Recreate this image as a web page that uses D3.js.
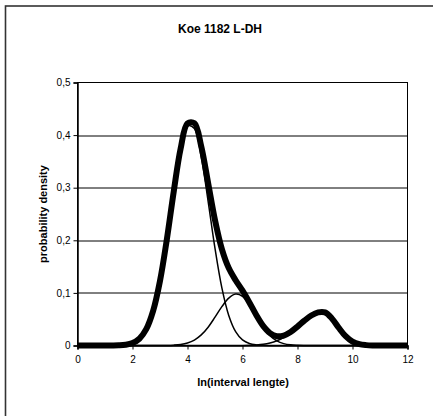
<!DOCTYPE html>
<html>
<head>
<meta charset="utf-8">
<script src="https://cdn.jsdelivr.net/npm/d3@7"></script>
<style>
    body { margin: 0; background: #fff; }
    #chart { width: 433px; height: 416px; }
    text { font-family: "Liberation Sans", Arial, sans-serif; fill: #000; }
</style>
</head>
<body>
<div id="chart"></div>
<script>
// x grid: ln(interval lengte), every 0.25
const lnX = [0, 0.25, 0.5, 0.75, 1, 1.25, 1.5, 1.75, 2, 2.25, 2.5, 2.75,
    3, 3.25, 3.5, 3.75, 4, 4.25, 4.5, 4.75, 5, 5.25, 5.5, 5.75,
    6, 6.25, 6.5, 6.75, 7, 7.25, 7.5, 7.75, 8, 8.25, 8.5, 8.75,
    9, 9.25, 9.5, 9.75, 10, 10.25, 10.5, 10.75, 11, 11.25, 11.5, 11.75, 12];

// total density (thick line)
const total = [0, 0, 0, 0, 0, 0.0001, 0.0004, 0.0015, 0.0047, 0.0129, 0.0310, 0.0657,
    0.1228, 0.2021, 0.2929, 0.3743, 0.4224, 0.4227, 0.3785, 0.3090, 0.2384, 0.1833, 0.1472, 0.1241,
    0.1043, 0.0819, 0.0580, 0.0373, 0.0236, 0.0177, 0.0190, 0.0257, 0.0360, 0.0472, 0.0570, 0.0630,
    0.0629, 0.0515, 0.0337, 0.0177, 0.0074, 0.0025, 0.0007, 0.0001, 0, 0, 0, 0, 0];

// components (thin lines)
const comp1 = [0, 0, 0, 0, 0, 0.0001, 0.0004, 0.0015, 0.0047, 0.0129, 0.0310, 0.0657,
    0.1227, 0.2019, 0.2922, 0.3724, 0.4177, 0.4124, 0.3584, 0.2742, 0.1846, 0.1095, 0.0571, 0.0263,
    0.0106, 0.0038, 0.0012, 0.0003, 0.0001, 0, 0, 0, 0, 0, 0, 0,
    0, 0, 0, 0, 0, 0, 0, 0, 0, 0, 0, 0, 0];
const comp2 = [0, 0, 0, 0, 0, 0, 0, 0, 0, 0, 0, 0,
    0.0001, 0.0002, 0.0007, 0.0019, 0.0047, 0.0103, 0.0201, 0.0348, 0.0538, 0.0738, 0.0901, 0.0978,
    0.0936, 0.0777, 0.0558, 0.0348, 0.0188, 0.0088, 0.0036, 0.0012, 0.0004, 0.0001, 0, 0,
    0, 0, 0, 0, 0, 0, 0, 0, 0, 0, 0, 0, 0];
const comp3 = [0, 0, 0, 0, 0, 0, 0, 0, 0, 0, 0, 0,
    0, 0, 0, 0, 0, 0, 0, 0, 0, 0, 0, 0,
    0.0001, 0.0004, 0.0010, 0.0022, 0.0047, 0.0089, 0.0154, 0.0245, 0.0356, 0.0471, 0.0570, 0.0630,
    0.0629, 0.0515, 0.0337, 0.0177, 0.0074, 0.0025, 0.0007, 0.0001, 0, 0, 0, 0, 0];

const xTicks = [0, 2, 4, 6, 8, 10, 12];
const yTicks = [0, 0.1, 0.2, 0.3, 0.4, 0.5];

const chartTitle = "Koe 1182 L-DH";
const xTitle = "ln(interval lengte)";
const yTitle = "probability density";

function drawChart(containerId) {
    const container = document.getElementById(containerId);

    // plot area in page pixels
    const margin = { top: 82.5, left: 77.5 };
    const width = 330;
    const height = 263;

    const svg = d3.create("svg")
                .attr("width", 433)
                .attr("height", 416);

    // outer frame, only top and left edges fall inside the picture
    svg.append("rect")
       .attr("x", 5.5)
       .attr("y", 6)
       .attr("width", 500)
       .attr("height", 500)
       .attr("fill", "none")
       .attr("stroke", "#333")
       .attr("stroke-width", 1.6);

    // title
    svg.append("text")
       .attr("x", 220)
       .attr("y", 33)
       .attr("text-anchor", "middle")
       .attr("font-size", 12)
       .attr("font-weight", "bold")
       .text(chartTitle);

    const x = d3.scaleLinear().domain([0, 12]).range([0, width]);
    const y = d3.scaleLinear().domain([0, 0.5]).range([height, 0]);

    const g = svg.append("g")
                 .attr("transform", `translate(${margin.left},${margin.top})`);

    // horizontal gridlines
    g.append("g")
     .selectAll("line")
     .data(yTicks.filter(d => d > 0 && d < 0.5))
     .join("line")
     .attr("x1", 0)
     .attr("x2", width)
     .attr("y1", d => Math.round(y(d)) + 0.5)
     .attr("y2", d => Math.round(y(d)) + 0.5)
     .attr("stroke", "#000")
     .attr("stroke-width", 1);

    // plot area border
    g.append("rect")
     .attr("x", 0)
     .attr("y", 0)
     .attr("width", width)
     .attr("height", height)
     .attr("fill", "none")
     .attr("stroke", "#000")
     .attr("stroke-width", 1);

    // axes
    const fmt = d => String(+d.toFixed(1)).replace(".", ",");

    const xAxis = g.append("g")
     .attr("transform", `translate(0,${height})`)
     .call(d3.axisBottom(x).tickValues(xTicks).tickSize(4).tickPadding(6).tickFormat(d => d));
    const yAxis = g.append("g")
     .call(d3.axisLeft(y).tickValues(yTicks).tickSize(4).tickPadding(3).tickFormat(fmt));

    [xAxis, yAxis].forEach(a => {
        a.select(".domain").attr("stroke", "#000").attr("stroke-width", 1.5);
        a.selectAll(".tick line").attr("stroke", "#000");
        a.selectAll(".tick text")
         .attr("font-size", 10)
         .attr("font-family", "Liberation Sans, Arial, sans-serif")
         .attr("fill", "#000");
    });

    // lines
    const pts = arr => lnX.map((v, i) => [v, arr[i]]);
    const line = d3.line()
                   .x(d => x(d[0]))
                   .y(d => y(d[1]))
                   .curve(d3.curveCatmullRom.alpha(0.5));

    [comp1, comp2, comp3].forEach(c => {
        g.append("path")
         .attr("d", line(pts(c)))
         .attr("fill", "none")
         .attr("stroke", "#000")
         .attr("stroke-width", 1.5);
    });

    g.append("path")
     .attr("d", line(pts(total)))
     .attr("fill", "none")
     .attr("stroke", "#000")
     .attr("stroke-width", 6)
     .attr("stroke-linejoin", "round");

    // axis titles
    svg.append("text")
       .attr("x", 243)
       .attr("y", 386)
       .attr("text-anchor", "middle")
       .attr("font-size", 11)
       .attr("font-weight", "bold")
       .text(xTitle);

    svg.append("text")
       .attr("transform", "translate(46.5,214) rotate(-90)")
       .attr("text-anchor", "middle")
       .attr("font-size", 11)
       .attr("font-weight", "bold")
       .text(yTitle);

    container.appendChild(svg.node());
}

drawChart("chart");
</script>
</body>
</html>
